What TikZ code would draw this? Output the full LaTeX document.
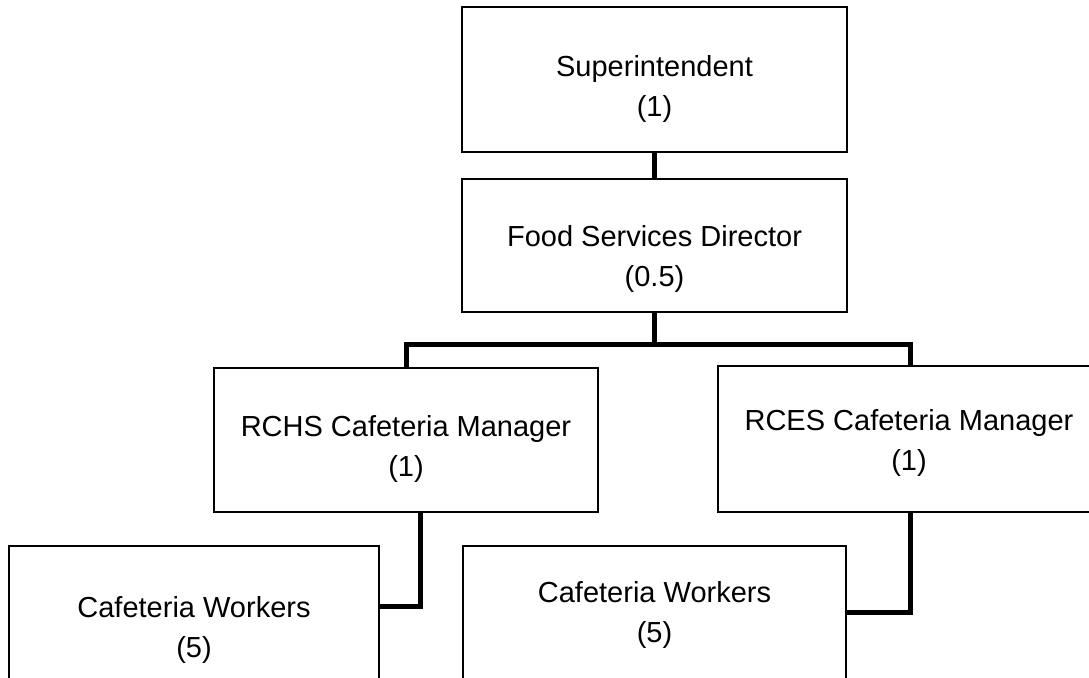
\documentclass[tikz,border=0pt]{standalone}
\usepackage{fontspec}
\setmainfont{Liberation Sans}
\tikzset{
  orgbox/.style 2 args={draw=black, line width=1.3pt, fill=white,
    minimum width=#1, minimum height=#2, inner sep=0pt, outer sep=0pt},
  orgtext/.style={font=\fontsize{29}{40}\selectfont, align=center,
    inner sep=0pt, text=black},
  link/.style={draw=black, line width=5pt},
}
\begin{document}
\begin{tikzpicture}[x=1pt, y=-1pt]
\path[use as bounding box, clip] (0,0) rectangle (1089,677);
\fill[white] (0,0) rectangle (1089,677);

% boxes of the chart
\node[orgbox={385pt}{145pt}] (sup)  at (654.5,79.5)  {};
\node[orgbox={385pt}{133pt}] (fsd)  at (654.5,245.5) {};
\node[orgbox={384pt}{144pt}] (rchs) at (406,440)     {};
\node[orgbox={384pt}{146pt}] (rces) at (910,439)     {};
\node[orgbox={370pt}{144pt}] (cwl)  at (194,618)     {};
\node[orgbox={383pt}{144pt}] (cwr)  at (654.5,618)   {};

% titles and head counts
\node[orgtext] (supt)  at (654.5,88.5) {Superintendent\\(1)};
\node[orgtext] (fsdt)  at (654.5,259)  {Food Services Director\\(0.5)};
\node[orgtext] (rchst) at (406,449)    {RCHS Cafeteria Manager\\(1)};
\node[orgtext] (rcest) at (909,442.5)  {RCES Cafeteria Manager\\(1)};
\node[orgtext] (cwlt)  at (194,629.5)  {Cafeteria Workers\\(5)};
\node[orgtext] (cwrt)  at (654.5,614.5) {Cafeteria Workers\\(5)};

% reporting lines
\coordinate (bar) at ([yshift=-32pt]fsd.south);
\draw[link] (sup.south) -- (fsd.north);
\draw[link] (fsd.south) -- (bar);
\draw[link] (rchs.north) |- (bar) -| (rces.north);
\draw[link] ([xshift=14pt]rchs.south) |- ([yshift=12pt]cwl.east);
\draw[link] (rces.south) |- ([yshift=6pt]cwr.east);
\end{tikzpicture}
\end{document}
